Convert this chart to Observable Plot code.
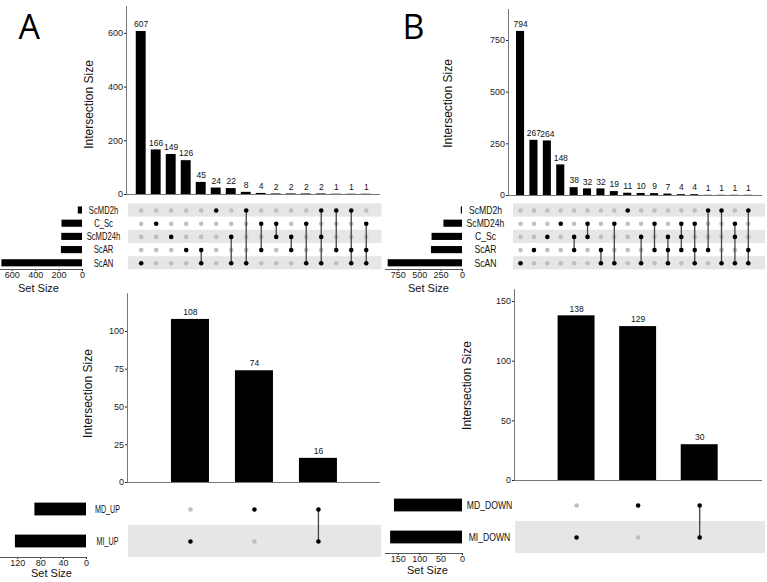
<!DOCTYPE html>
<html><head><meta charset="utf-8">
<script src="https://cdn.jsdelivr.net/npm/d3@7"></script>
<script src="https://cdn.jsdelivr.net/npm/@observablehq/plot@0.6"></script>
<style>
body{margin:0;background:#fff;}
#wrap{position:relative;width:767px;height:582px;overflow:hidden;background:#fff;}
#wrap svg{position:absolute;overflow:visible;background:transparent;}
</style></head><body><div id="wrap"></div>
<script>
// ---------- data ----------
const setsA = ["ScMD2h", "C_Sc", "ScMD24h", "ScAR", "ScAN"];
const setSizesA = [36, 175, 177, 180, 688];
const countsA = [607, 166, 149, 126, 45, 24, 22, 8, 4, 2, 2, 2, 2, 1, 1, 1];
const membersA = [
  ["ScAN"], ["C_Sc"], ["ScMD24h"], ["ScAR"], ["ScAR", "ScAN"], ["ScMD2h"],
  ["ScMD24h", "ScAN"], ["ScMD2h", "ScAN"], ["C_Sc", "ScAR"], ["C_Sc", "ScMD24h"],
  ["ScMD24h", "ScAR"], ["C_Sc", "ScAN"], ["ScMD2h", "ScMD24h", "ScAN"],
  ["ScMD2h", "ScAR"], ["ScMD2h", "ScAR", "ScAN"], ["C_Sc", "ScAR", "ScAN"]
];
const ticksA = [0, 200, 400, 600];
const sizeTicksA = [0, 200, 400, 600];

const setsB = ["ScMD2h", "ScMD24h", "C_Sc", "ScAR", "ScAN"];
const setSizesB = [14, 217, 356, 363, 869];
const countsB = [794, 267, 264, 148, 38, 32, 32, 19, 11, 10, 9, 7, 4, 4, 1, 1, 1, 1];
const membersB = [
  ["ScAN"], ["ScAR"], ["C_Sc"], ["ScMD24h"], ["C_Sc", "ScAR"], ["ScMD24h", "C_Sc"],
  ["ScAR", "ScAN"], ["ScMD24h", "ScAN"], ["ScMD2h"], ["C_Sc", "ScAN"],
  ["ScMD24h", "ScAR"], ["C_Sc", "ScAR", "ScAN"], ["ScMD24h", "C_Sc", "ScAR"],
  ["ScMD24h", "ScAR", "ScAN"], ["ScMD2h", "ScAR"], ["ScMD2h", "ScAN"],
  ["ScMD24h", "C_Sc", "ScAN"], ["ScMD2h", "ScAR", "ScAN"]
];
const ticksB = [0, 250, 500, 750];
const sizeTicksB = [0, 250, 500, 750];

const setsC = ["MD_UP", "MI_UP"];
const setSizesC = [90, 124];
const countsC = [108, 74, 16];
const membersC = [["MI_UP"], ["MD_UP"], ["MD_UP", "MI_UP"]];
const ticksC = [0, 25, 50, 75, 100];
const sizeTicksC = [0, 40, 80, 120];

const setsD = ["MD_DOWN", "MI_DOWN"];
const setSizesD = [159, 168];
const countsD = [138, 129, 30];
const membersD = [["MI_DOWN"], ["MD_DOWN"], ["MD_DOWN", "MI_DOWN"]];
const ticksD = [0, 50, 100, 150];
const sizeTicksD = [0, 50, 100, 150];

// ---------- helpers ----------
const FONT = "'Liberation Sans', Arial, Helvetica, sans-serif";
const wrap = document.getElementById("wrap");
function place(svg, left, top) {
  svg.style.left = left + "px";
  svg.style.top = top + "px";
  wrap.appendChild(svg);
  return svg;
}
// narrow the set-name labels (the reference uses a condensed face)
function condense(svg, names, factor) {
  svg.querySelectorAll("text").forEach(t => {
    if (names.includes(t.textContent)) {
      const w = t.getComputedTextLength();
      t.setAttribute("textLength", (w * factor).toFixed(2));
      t.setAttribute("lengthAdjust", "spacingAndGlyphs");
    }
  });
}
const baseStyle = {fontSize: "9px", fontFamily: FONT, color: "#222", background: "transparent", overflow: "visible"};

function barsPlot(o) {
  const data = o.counts.map((v, i) => ({i, v}));
  const marks = [
    Plot.rectY(data, {x1: d => d.i - o.half, x2: d => d.i + o.half, y1: 0, y2: "v", fill: "#000"}),
    Plot.text(data, {x: "i", y: "v", text: "v", dy: -7, fontSize: 8.5, fill: "#111"}),
    Plot.ruleY([o.yDomain[0]], {stroke: "#777", strokeWidth: 1}),
    Plot.ruleX([o.xDomain[0]], {y1: o.yDomain[0], y2: o.yDomain[1], stroke: "#777", strokeWidth: 1}),
    Plot.text(["Intersection Size"], {frameAnchor: "left", textAnchor: "middle", lineAnchor: "middle", rotate: -90, dx: o.labelDx, dy: o.labelDy, fontSize: 12, fill: "#111"})
  ];
  if (o.tag) marks.push(Plot.text([o.tag], {frameAnchor: "top-left", textAnchor: "start", lineAnchor: "top", dx: o.tagDx, dy: o.tagDy, fontSize: 34, fontFamily: "'Open Sans', 'Liberation Sans', sans-serif", fill: "#000"}));
  return Plot.plot({
    width: o.width, height: o.height,
    marginLeft: o.mL, marginRight: o.mR, marginTop: o.mT, marginBottom: o.mB,
    x: {domain: o.xDomain, axis: null},
    y: {domain: o.yDomain, ticks: o.ticks, tickSize: 2, tickPadding: 1.5, label: null, tickFormat: d => String(d)},
    style: baseStyle,
    marks
  });
}

function matrixPlot(o) {
  const n = o.sets.length;
  const rows = o.sets.map((s, j) => ({s, j}));
  const cells = o.members.flatMap((m, i) => o.sets.map((s, j) => ({i, j, on: m.includes(s)})));
  const links = o.members.map((m, i) => {
    const js = m.map(s => o.sets.indexOf(s));
    return {i, j1: Math.min(...js), j2: Math.max(...js), k: m.length};
  }).filter(d => d.k > 1);
  return Plot.plot({
    width: o.width, height: o.height,
    marginLeft: o.mL, marginRight: o.mR, marginTop: o.mT, marginBottom: o.mB,
    x: {domain: o.xDomain, axis: null},
    y: {domain: [n - 0.5, -0.5], axis: null},
    style: baseStyle,
    marks: [
      Plot.rect(rows.filter(d => (n - 1 - d.j) % 2 === 0), {x1: o.stripeX[0], x2: o.stripeX[1], y1: d => d.j - 0.5, y2: d => d.j + 0.5, fill: "#e6e6e6"}),
      Plot.dot(cells.filter(d => !d.on), {x: "i", y: "j", r: o.r, fill: "#bfbfbf", stroke: "none"}),
      Plot.ruleX(links, {x: "i", y1: "j1", y2: "j2", stroke: "#444", strokeWidth: 1.3}),
      Plot.dot(cells.filter(d => d.on), {x: "i", y: "j", r: o.r, fill: "#000", stroke: "none"})
    ]
  });
}

function sizePlot(o) {
  const rows = o.sets.map((s, j) => ({s, j, v: o.sizes[j]}));
  return Plot.plot({
    width: o.width, height: o.height,
    marginLeft: 0, marginRight: o.mR, marginTop: o.mT, marginBottom: o.mB,
    x: {domain: [o.xMax, 0], ticks: o.ticks, tickSize: 2, tickPadding: 0, label: null, tickFormat: d => String(d)},
    y: {domain: [o.yBottom, -0.5], axis: null},
    style: baseStyle,
    marks: [
      Plot.rectX(rows, {x1: 0, x2: "v", y1: d => d.j - o.half, y2: d => d.j + o.half, fill: "#000"}),
      Plot.ruleY([o.yBottom], {stroke: "#555", strokeWidth: 1}),
      Plot.text(rows, {y: "j", text: "s", frameAnchor: "right", dx: o.labelDx, textAnchor: "middle", lineAnchor: "middle", fontSize: 10.5, fill: "#111"}),
      Plot.text(["Set Size"], {frameAnchor: "bottom", lineAnchor: "middle", dx: o.ssDx, dy: o.ssDy, fontSize: 11, fill: "#111"})
    ]
  });
}

// ---------- Panel A (top left) ----------
const xDomA = [-0.98, 15.95];
place(barsPlot({counts: countsA, xDomain: xDomA, yDomain: [0, 700], ticks: ticksA, width: 385, height: 200,
  mL: 126, mR: 5, mT: 6, mB: 6, half: 0.33, labelDx: -37, labelDy: 4, tag: "A", tagDx: -108, tagDy: 8}), 0, 0);
place(matrixPlot({sets: setsA, members: membersA, xDomain: xDomA, width: 265, height: 75,
  mL: 6, mR: 5, mT: 3.4, mB: 5.6, stripeX: [-0.85, 16.05], r: 2.3}), 120, 200);
condense(place(sizePlot({sets: setsA, sizes: setSizesA, xMax: 700, ticks: sizeTicksA, width: 128, height: 95,
  mR: 46, mT: 3.4, mB: 26, yBottom: 4.47, half: 0.27, labelDx: 21, ssDx: -3, ssDy: 19}), 0, 200), setsA, 0.73);

// ---------- Panel B (top right) ----------
const xDomB = [-0.9, 18.06];
place(barsPlot({counts: countsB, xDomain: xDomB, yDomain: [0, 900], ticks: ticksB, width: 382, height: 200,
  mL: 123, mR: 5, mT: 9, mB: 5, half: 0.3, labelDx: -60, labelDy: 1, tag: "B", tagDx: -106, tagDy: 5}), 385, 0);
place(matrixPlot({sets: setsB, members: membersB, xDomain: xDomB, width: 262, height: 75,
  mL: 3, mR: 5, mT: 3.4, mB: 5.6, stripeX: [-0.53, 18.28], r: 2.3}), 505, 200);
condense(place(sizePlot({sets: setsB, sizes: setSizesB, xMax: 900, ticks: sizeTicksB, width: 128, height: 95,
  mR: 51, mT: 3.4, mB: 26, yBottom: 4.47, half: 0.27, labelDx: 23, ssDx: 4.5, ssDy: 19}), 385, 200), setsB, 0.82);

// ---------- Panel C (bottom left) ----------
const xDomC = [-0.984, 2.97];
place(barsPlot({counts: countsC, xDomain: xDomC, yDomain: [0, 125], ticks: ticksC, width: 385, height: 205,
  mL: 127, mR: 5, mT: 8.25, mB: 8, half: 0.297, labelDx: -39, labelDy: 5.4}), 0, 285);
place(matrixPlot({sets: setsC, members: membersC, xDomain: xDomC, width: 265, height: 70,
  mL: 7, mR: 5, mT: 3, mB: 3, stripeX: [-0.97, 2.99], r: 2.3}), 120, 490);
condense(place(sizePlot({sets: setsC, sizes: setSizesC, xMax: 150, ticks: sizeTicksC, width: 128, height: 92,
  mR: 42, mT: 3, mB: 25, yBottom: 1.5, half: 0.2, labelDx: 21, ssDx: 8, ssDy: 15.5}), 0, 490), setsC, 0.68);

// ---------- Panel D (bottom right) ----------
const xDomD = [-1.008, 3.02];
place(barsPlot({counts: countsD, xDomain: xDomD, yDomain: [0, 160], ticks: ticksD, width: 382, height: 205,
  mL: 129, mR: 5, mT: 4.1, mB: 10, half: 0.3, labelDx: -47, labelDy: 0.5}), 385, 285);
place(matrixPlot({sets: setsD, members: membersD, xDomain: xDomD, width: 262, height: 72,
  mL: 9, mR: 5, mT: 4, mB: 4, stripeX: [-0.99, 3.07], r: 2.3}), 505, 485);
condense(place(sizePlot({sets: setsD, sizes: setSizesD, xMax: 180, ticks: sizeTicksD, width: 128, height: 97,
  mR: 51, mT: 4, mB: 29, yBottom: 1.5, half: 0.2, labelDx: 27, ssDx: 3.5, ssDy: 17}), 385, 485), setsD, 0.82);
</script></body></html>
